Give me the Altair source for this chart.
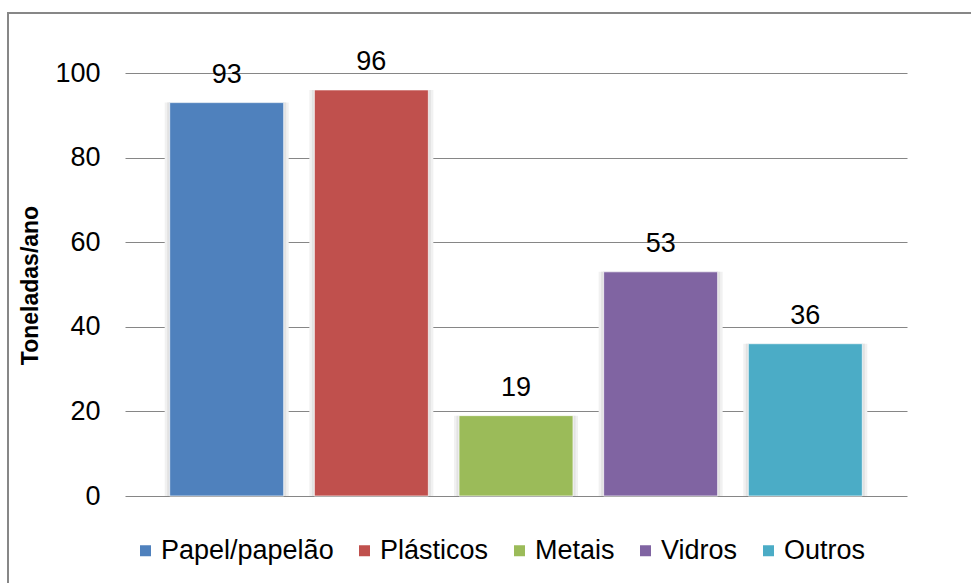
import altair as alt
import pandas as pd

# Coleta seletiva: toneladas por ano de cada material
materiais = ["Papel/papelão", "Plásticos", "Metais", "Vidros", "Outros"]
toneladas = [93, 96, 19, 53, 36]
cores = ["#4F81BD", "#C0504D", "#9BBB59", "#8064A2", "#4BACC6"]
marcas_y = [0, 20, 40, 60, 80, 100]

df = pd.DataFrame({"material": materiais, "toneladas": toneladas})

FONT = "Liberation Sans"

x_enc = alt.X(
    "material:N",
    sort=materiais,
    axis=None,
    scale=alt.Scale(paddingInner=0.214, paddingOuter=0.31),
)
y_enc = alt.Y(
    "toneladas:Q",
    scale=alt.Scale(domain=[0, 100], nice=False),
    axis=alt.Axis(
        values=marcas_y,
        title="Toneladas/ano",
        titleFont=FONT,
        titleFontSize=23,
        titleFontWeight="bold",
        titleColor="black",
        titleAngle=-90,
        titleAlign="center",
        titleBaseline="middle",
        titleX=-95,
        titleY=212,
        labelFont=FONT,
        labelFontSize=27,
        labelColor="black",
        labelPadding=25,
        domain=False,
        ticks=False,
        grid=True,
        gridColor="#868686",
        gridWidth=1,
    ),
)

base = alt.Chart(df)

# soft shadow behind each bar
sombra_ext = base.mark_bar(width=124, color="#f1f1f1").encode(x=x_enc, y=y_enc)
sombra = base.mark_bar(width=119, color="#e2e2e2").encode(x=x_enc, y=y_enc)

barras = base.mark_bar(width=114, stroke="white", strokeWidth=1, strokeOpacity=0.7).encode(
    x=x_enc,
    y=y_enc,
    color=alt.Color(
        "material:N",
        sort=materiais,
        scale=alt.Scale(domain=materiais, range=cores),
        legend=alt.Legend(
            title=None,
            orient="none",
            direction="horizontal",
            legendX=7,
            legendY=464,
            symbolType="square",
            symbolSize=121,
            symbolStrokeWidth=0,
            labelFont=FONT,
            labelFontSize=27,
            labelColor="black",
            labelLimit=0,
            labelOffset=2,
            columnPadding=17,
        ),
    ),
)

rotulos = base.mark_text(
    font=FONT, fontSize=27, color="black", baseline="bottom", dy=-14
).encode(x=x_enc, y=y_enc, text="toneladas:Q")

moldura = alt.Chart(pd.DataFrame({"k": [0]})).mark_rect(
    fill="transparent", stroke="#878787", strokeWidth=2
).encode(
    x=alt.value(-117), x2=alt.value(852), y=alt.value(-60), y2=alt.value(520)
)

chart = (
    alt.layer(moldura, sombra_ext, sombra, barras, rotulos)
    .properties(
        width=782,
        height=423,
        autosize=alt.AutoSizeParams(type="none"),
        padding={"left": 125, "top": 73, "right": 64, "bottom": 87},
        background="white",
    )
    .configure_view(stroke=None)
)

chart.save("out.html", embed_options={"renderer": "svg", "actions": False})
